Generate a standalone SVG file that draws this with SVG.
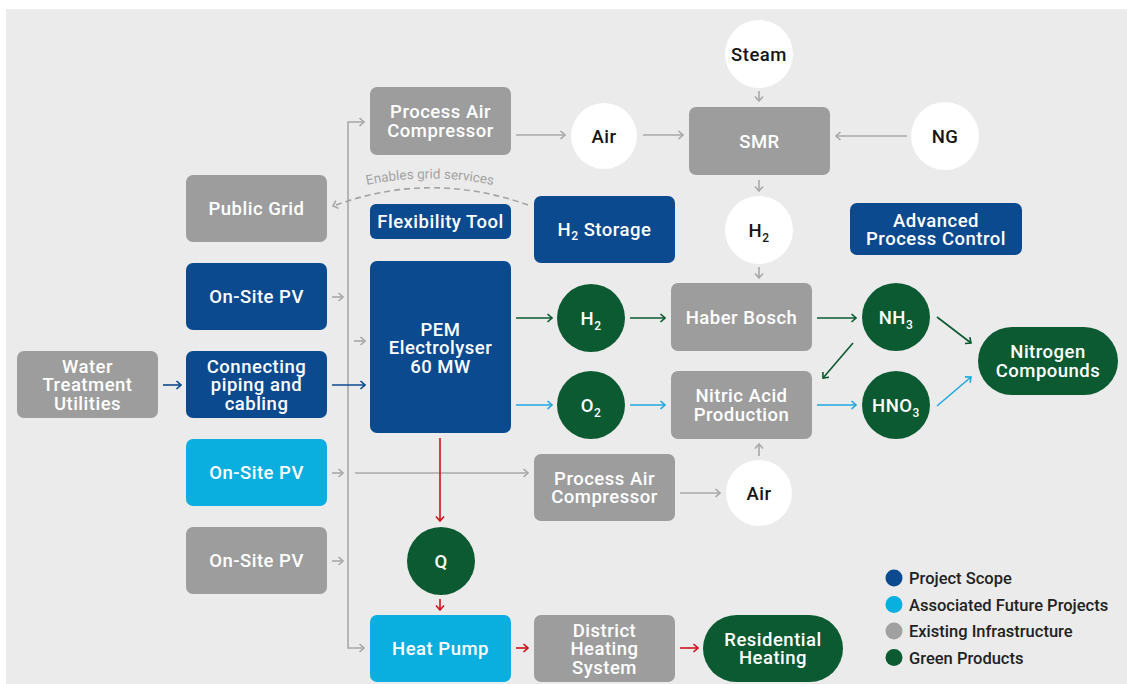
<svg xmlns="http://www.w3.org/2000/svg" width="1127" height="684" viewBox="0 0 1127 684">
  <style>
    .bg { fill: #ebebeb; }
    .gray { fill: #9d9d9d; }
    .blue { fill: #0b4a8f; }
    .cyan { fill: #0aafe0; }
    .green { fill: #0b5a31; }
    .white { fill: #ffffff; }
    text { font-family: Roboto, "Liberation Sans", Arial, sans-serif; }
    .lbl { font-size: 18.5px; font-weight: 500; letter-spacing: 0.5px; fill: #ffffff; text-anchor: middle; }
    .dark { fill: #151515; }
    .sub { font-size: 12px; }
    .legend { font-size: 16.5px; font-weight: 500; fill: #222222; }
    .note { font-size: 13.5px; fill: #a3a3a3; }
    .c-gray { stroke: #a8a8a8; }
    .c-blue { stroke: #0b4a8f; }
    .c-green { stroke: #0b5a31; }
    .c-cyan { stroke: #1ea8df; }
    .c-red { stroke: #d0121b; }
    #connectors path { fill: none; stroke-width: 1.6; }
  </style>
  <defs>
    <marker id="ah-gray" viewBox="0 0 10 10" refX="9" refY="5" markerWidth="10" markerHeight="10" markerUnits="userSpaceOnUse" orient="auto">
      <path d="M4.5,1 L9,5 L4.5,9" fill="none" stroke="#a8a8a8" stroke-width="1.6"/>
    </marker>
    <marker id="ah-blue" viewBox="0 0 10 10" refX="9" refY="5" markerWidth="10" markerHeight="10" markerUnits="userSpaceOnUse" orient="auto">
      <path d="M4.5,1 L9,5 L4.5,9" fill="none" stroke="#0b4a8f" stroke-width="1.6"/>
    </marker>
    <marker id="ah-green" viewBox="0 0 10 10" refX="9" refY="5" markerWidth="10" markerHeight="10" markerUnits="userSpaceOnUse" orient="auto">
      <path d="M4.5,1 L9,5 L4.5,9" fill="none" stroke="#0b5a31" stroke-width="1.6"/>
    </marker>
    <marker id="ah-cyan" viewBox="0 0 10 10" refX="9" refY="5" markerWidth="10" markerHeight="10" markerUnits="userSpaceOnUse" orient="auto">
      <path d="M4.5,1 L9,5 L4.5,9" fill="none" stroke="#1ea8df" stroke-width="1.6"/>
    </marker>
    <marker id="ah-red" viewBox="0 0 10 10" refX="9" refY="5" markerWidth="10" markerHeight="10" markerUnits="userSpaceOnUse" orient="auto">
      <path d="M4.5,1 L9,5 L4.5,9" fill="none" stroke="#d0121b" stroke-width="1.6"/>
    </marker>
    <path id="note-path" d="M340,192 Q430,165 520,192"/>
  </defs>

  <rect x="0" y="0" width="1127" height="684" fill="#ffffff"/>
  <rect class="bg" x="6" y="9" width="1121" height="675"/>

  <!-- connectors -->
  <g id="connectors">
    <!-- power bus -->
    <path class="c-gray" d="M348,385 V122 H364" marker-end="url(#ah-gray)"/>
    <path class="c-gray" d="M348,385 V648 H364" marker-end="url(#ah-gray)"/>
    <path class="c-gray" d="M332,297 H343" marker-end="url(#ah-gray)"/>
    <path class="c-gray" d="M354,341 H365" marker-end="url(#ah-gray)"/>
    <path class="c-gray" d="M332,473 H343" marker-end="url(#ah-gray)"/>
    <path class="c-gray" d="M355,473 H528" marker-end="url(#ah-gray)"/>
    <path class="c-gray" d="M332,561 H343" marker-end="url(#ah-gray)"/>
    <!-- SMR feed -->
    <path class="c-gray" d="M516,135 H565" marker-end="url(#ah-gray)"/>
    <path class="c-gray" d="M643,135 H683" marker-end="url(#ah-gray)"/>
    <path class="c-gray" d="M907,136 H836" marker-end="url(#ah-gray)"/>
    <path class="c-gray" d="M759,91 V101" marker-end="url(#ah-gray)"/>
    <path class="c-gray" d="M759,180 V191" marker-end="url(#ah-gray)"/>
    <path class="c-gray" d="M759,267 V278" marker-end="url(#ah-gray)"/>
    <!-- lower air loop -->
    <path class="c-gray" d="M680,493 H720" marker-end="url(#ah-gray)"/>
    <path class="c-gray" d="M759,456 V444" marker-end="url(#ah-gray)"/>
    <!-- grid services -->
    <path d="M528,205 Q430,170 333,206" stroke="#a3a3a3" stroke-width="2" stroke-dasharray="6 4" fill="none" marker-end="url(#ah-gray)"/>
    <!-- water / piping -->
    <path class="c-blue" d="M163,385 H181" marker-end="url(#ah-blue)"/>
    <path class="c-blue" d="M332,385 H365" marker-end="url(#ah-blue)"/>
    <!-- hydrogen / ammonia -->
    <path class="c-green" d="M516,318 H552" marker-end="url(#ah-green)"/>
    <path class="c-green" d="M630,318 H665" marker-end="url(#ah-green)"/>
    <path class="c-green" d="M817,318 H856" marker-end="url(#ah-green)"/>
    <path class="c-green" d="M853,343 L823,378" marker-end="url(#ah-green)"/>
    <path class="c-green" d="M937,317 L971,343" marker-end="url(#ah-green)"/>
    <!-- oxygen / nitric acid -->
    <path class="c-cyan" d="M516,405 H552" marker-end="url(#ah-cyan)"/>
    <path class="c-cyan" d="M630,405 H665" marker-end="url(#ah-cyan)"/>
    <path class="c-cyan" d="M817,405 H856" marker-end="url(#ah-cyan)"/>
    <path class="c-cyan" d="M937,406 L971,377" marker-end="url(#ah-cyan)"/>
    <!-- heat -->
    <path class="c-red" d="M440,438 V521" marker-end="url(#ah-red)"/>
    <path class="c-red" d="M440,599 V610" marker-end="url(#ah-red)"/>
    <path class="c-red" d="M516,648 H528" marker-end="url(#ah-red)"/>
    <path class="c-red" d="M680,648 H698" marker-end="url(#ah-red)"/>
  </g>

  <text class="note"><textPath href="#note-path" startOffset="50%" text-anchor="middle">Enables grid services</textPath></text>

  <!-- nodes -->
  <g id="process-air-compressor-top">
    <rect class="gray" x="370" y="87" width="141" height="68" rx="7"/>
    <text class="lbl"><tspan x="440.5" y="118.3">Process Air</tspan><tspan x="440.5" y="136.8">Compressor</tspan></text>
  </g>
  <g id="air-top">
    <circle class="white" cx="604" cy="136" r="33"/>
    <text class="lbl dark" x="604" y="142.5">Air</text>
  </g>
  <g id="smr">
    <rect class="gray" x="689" y="107" width="141" height="68" rx="7"/>
    <text class="lbl" x="759.5" y="147.5">SMR</text>
  </g>
  <g id="steam">
    <circle class="white" cx="759" cy="54" r="34"/>
    <text class="lbl dark" x="759" y="60.5">Steam</text>
  </g>
  <g id="ng">
    <circle class="white" cx="945" cy="136" r="34"/>
    <text class="lbl dark" x="945" y="142.5">NG</text>
  </g>
  <g id="public-grid">
    <rect class="gray" x="186" y="175" width="141" height="67" rx="7"/>
    <text class="lbl" x="256.5" y="215">Public Grid</text>
  </g>
  <g id="flexibility-tool">
    <rect class="blue" x="370" y="204" width="141" height="35" rx="6"/>
    <text class="lbl" x="440.5" y="228">Flexibility Tool</text>
  </g>
  <g id="h2-storage">
    <rect class="blue" x="534" y="196" width="141" height="67" rx="7"/>
    <text class="lbl" x="604.5" y="236">H<tspan class="sub" dy="4">2</tspan><tspan dy="-4"> Storage</tspan></text>
  </g>
  <g id="h2-smr">
    <circle class="white" cx="759" cy="230" r="34"/>
    <text class="lbl dark" x="759" y="236.5">H<tspan class="sub" dy="5">2</tspan></text>
  </g>
  <g id="advanced-process-control">
    <rect class="blue" x="850" y="203" width="172" height="52" rx="7"/>
    <text class="lbl"><tspan x="936" y="226.5">Advanced</tspan><tspan x="936" y="245">Process Control</tspan></text>
  </g>
  <g id="pv-project">
    <rect class="blue" x="186" y="263" width="141" height="67" rx="7"/>
    <text class="lbl" x="256.5" y="303">On-Site PV</text>
  </g>
  <g id="pem-electrolyser">
    <rect class="blue" x="370" y="261" width="141" height="172" rx="7"/>
    <text class="lbl"><tspan x="440.5" y="335.5">PEM</tspan><tspan x="440.5" y="354">Electrolyser</tspan><tspan x="440.5" y="372.5">60 MW</tspan></text>
  </g>
  <g id="h2-green">
    <circle class="green" cx="591" cy="318" r="34"/>
    <text class="lbl" x="591" y="324.5">H<tspan class="sub" dy="5">2</tspan></text>
  </g>
  <g id="haber-bosch">
    <rect class="gray" x="671" y="283" width="141" height="68" rx="7"/>
    <text class="lbl" x="741.5" y="323.5">Haber Bosch</text>
  </g>
  <g id="nh3">
    <circle class="green" cx="896" cy="317" r="34"/>
    <text class="lbl" x="896" y="323.5">NH<tspan class="sub" dy="5">3</tspan></text>
  </g>
  <g id="nitrogen-compounds">
    <rect class="green" x="978" y="327" width="140" height="68" rx="34"/>
    <text class="lbl"><tspan x="1048" y="358.3">Nitrogen</tspan><tspan x="1048" y="376.8">Compounds</tspan></text>
  </g>
  <g id="water-treatment">
    <rect class="gray" x="17" y="351" width="141" height="67" rx="7"/>
    <text class="lbl"><tspan x="87.5" y="372.5">Water</tspan><tspan x="87.5" y="391">Treatment</tspan><tspan x="87.5" y="409.5">Utilities</tspan></text>
  </g>
  <g id="connecting-piping">
    <rect class="blue" x="186" y="351" width="141" height="67" rx="7"/>
    <text class="lbl"><tspan x="256.5" y="372.5">Connecting</tspan><tspan x="256.5" y="391">piping and</tspan><tspan x="256.5" y="409.5">cabling</tspan></text>
  </g>
  <g id="o2">
    <circle class="green" cx="591" cy="405" r="34"/>
    <text class="lbl" x="591" y="411.5">O<tspan class="sub" dy="5">2</tspan></text>
  </g>
  <g id="nitric-acid">
    <rect class="gray" x="671" y="371" width="141" height="68" rx="7"/>
    <text class="lbl"><tspan x="741.5" y="402.3">Nitric Acid</tspan><tspan x="741.5" y="420.8">Production</tspan></text>
  </g>
  <g id="hno3">
    <circle class="green" cx="896" cy="405" r="34"/>
    <text class="lbl" x="896" y="411.5">HNO<tspan class="sub" dy="5">3</tspan></text>
  </g>
  <g id="pv-future">
    <rect class="cyan" x="186" y="439" width="141" height="67" rx="7"/>
    <text class="lbl" x="256.5" y="479">On-Site PV</text>
  </g>
  <g id="process-air-compressor-bottom">
    <rect class="gray" x="534" y="454" width="141" height="67" rx="7"/>
    <text class="lbl"><tspan x="604.5" y="484.8">Process Air</tspan><tspan x="604.5" y="503.3">Compressor</tspan></text>
  </g>
  <g id="air-bottom">
    <circle class="white" cx="759" cy="493" r="33"/>
    <text class="lbl dark" x="759" y="499.5">Air</text>
  </g>
  <g id="pv-existing">
    <rect class="gray" x="186" y="527" width="141" height="67" rx="7"/>
    <text class="lbl" x="256.5" y="567">On-Site PV</text>
  </g>
  <g id="q">
    <circle class="green" cx="441" cy="561" r="34"/>
    <text class="lbl" x="441" y="567.5">Q</text>
  </g>
  <g id="heat-pump">
    <rect class="cyan" x="370" y="615" width="141" height="67" rx="7"/>
    <text class="lbl" x="440.5" y="655">Heat Pump</text>
  </g>
  <g id="district-heating">
    <rect class="gray" x="534" y="615" width="141" height="67" rx="7"/>
    <text class="lbl"><tspan x="604.5" y="636.5">District</tspan><tspan x="604.5" y="655">Heating</tspan><tspan x="604.5" y="673.5">System</tspan></text>
  </g>
  <g id="residential-heating">
    <rect class="green" x="703" y="615" width="140" height="67" rx="33.5"/>
    <text class="lbl"><tspan x="773" y="645.8">Residential</tspan><tspan x="773" y="664.3">Heating</tspan></text>
  </g>

  <!-- legend -->
  <g id="legend">
    <circle cx="894" cy="578" r="8.5" fill="#0b4a8f"/>
    <text class="legend" x="909" y="584">Project Scope</text>
    <circle cx="894" cy="604.5" r="8.5" fill="#0aafe0"/>
    <text class="legend" x="909" y="610.5">Associated Future Projects</text>
    <circle cx="894" cy="631" r="8.5" fill="#a0a0a0"/>
    <text class="legend" x="909" y="637">Existing Infrastructure</text>
    <circle cx="894" cy="657.5" r="8.5" fill="#0b5a31"/>
    <text class="legend" x="909" y="663.5">Green Products</text>
  </g>
</svg>
